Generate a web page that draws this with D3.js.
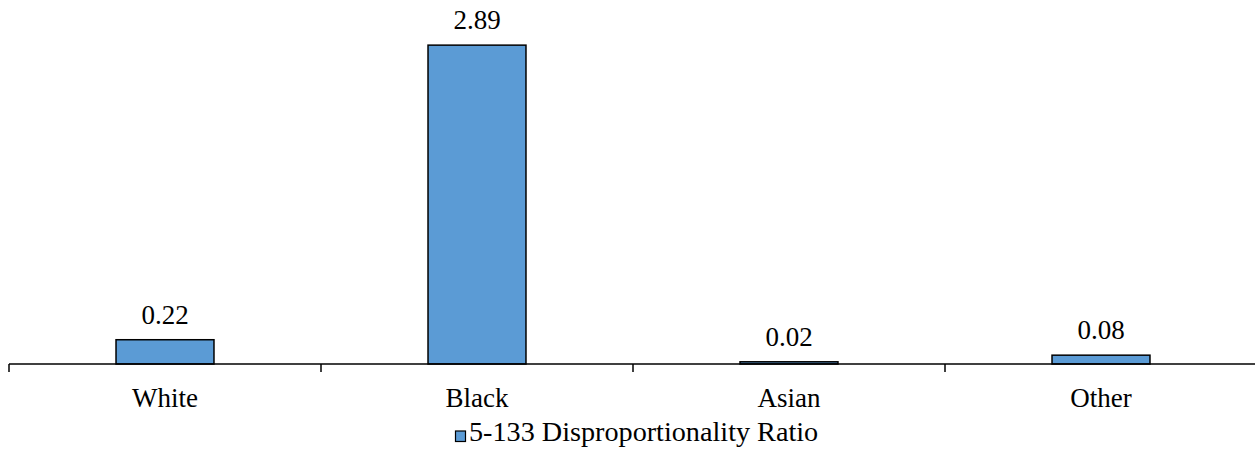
<!DOCTYPE html>
<html><head><meta charset="utf-8">
<script src="https://cdn.jsdelivr.net/npm/d3@7"></script>
<style>
body{margin:0;background:#fff;}
</style></head>
<body><svg id="chart" width="1255" height="456"></svg>
<script>
const categories = ["White","Black","Asian","Other"];
const values = [0.22, 2.89, 0.02, 0.08];
const seriesName = "5-133 Disproportionality Ratio";
const valueLabels = ["0.22","2.89","0.02","0.08"];

const FONT = "'Liberation Serif', 'Times New Roman', Tinos, serif";
const svg = d3.select("#chart").attr("font-family", FONT);
const left = 9, right = 1257, base = 364;
const fs = 27;
const color = "#5B9BD5";

const x = d3.scaleBand().domain(categories).range([left, right]).paddingInner(0.686).paddingOuter(0.343);
const y = d3.scaleLinear().domain([0, 3]).range([base, 33]);

svg.append("g").selectAll("rect").data(values).join("rect")
  .attr("x", (d,i)=>x(categories[i]))
  .attr("y", d=>y(d))
  .attr("width", x.bandwidth())
  .attr("height", d=>base - y(d))
  .attr("fill", color).attr("stroke", "#000").attr("stroke-width", 1.5);

svg.append("g").selectAll("text").data(values).join("text")
  .attr("x", (d,i)=>x(categories[i]) + x.bandwidth()/2)
  .attr("y", d=>y(d) - 16)
  .attr("text-anchor","middle").attr("font-size", fs).attr("font-family", FONT)
  .text((d,i)=>valueLabels[i]);

const step = x.step();
const ax = svg.append("g");
ax.append("line").attr("x1", left).attr("x2", right).attr("y1", base).attr("y2", base)
  .attr("stroke","#000").attr("stroke-width",1.5);
const tickPos = d3.range(categories.length + 1).map(i => left + i*step);
ax.selectAll("line.tk").data(tickPos).join("line").attr("class","tk")
  .attr("x1", d=>d).attr("x2", d=>d).attr("y1", base).attr("y2", base + 8)
  .attr("stroke","#000").attr("stroke-width",1.5);
ax.selectAll("text").data(categories).join("text")
  .attr("x", d=>x(d) + x.bandwidth()/2).attr("y", 407)
  .attr("text-anchor","middle").attr("font-size", fs).attr("font-family", FONT).text(d=>d);

const lg = svg.append("g");
lg.append("rect").attr("x",455.5).attr("y",431).attr("width",10).attr("height",10.5)
  .attr("fill",color).attr("stroke","#000").attr("stroke-width",1.2);
lg.append("text").attr("x",469).attr("y",441).attr("font-size",28.2).attr("font-family", FONT).text(seriesName);
</script></body></html>
